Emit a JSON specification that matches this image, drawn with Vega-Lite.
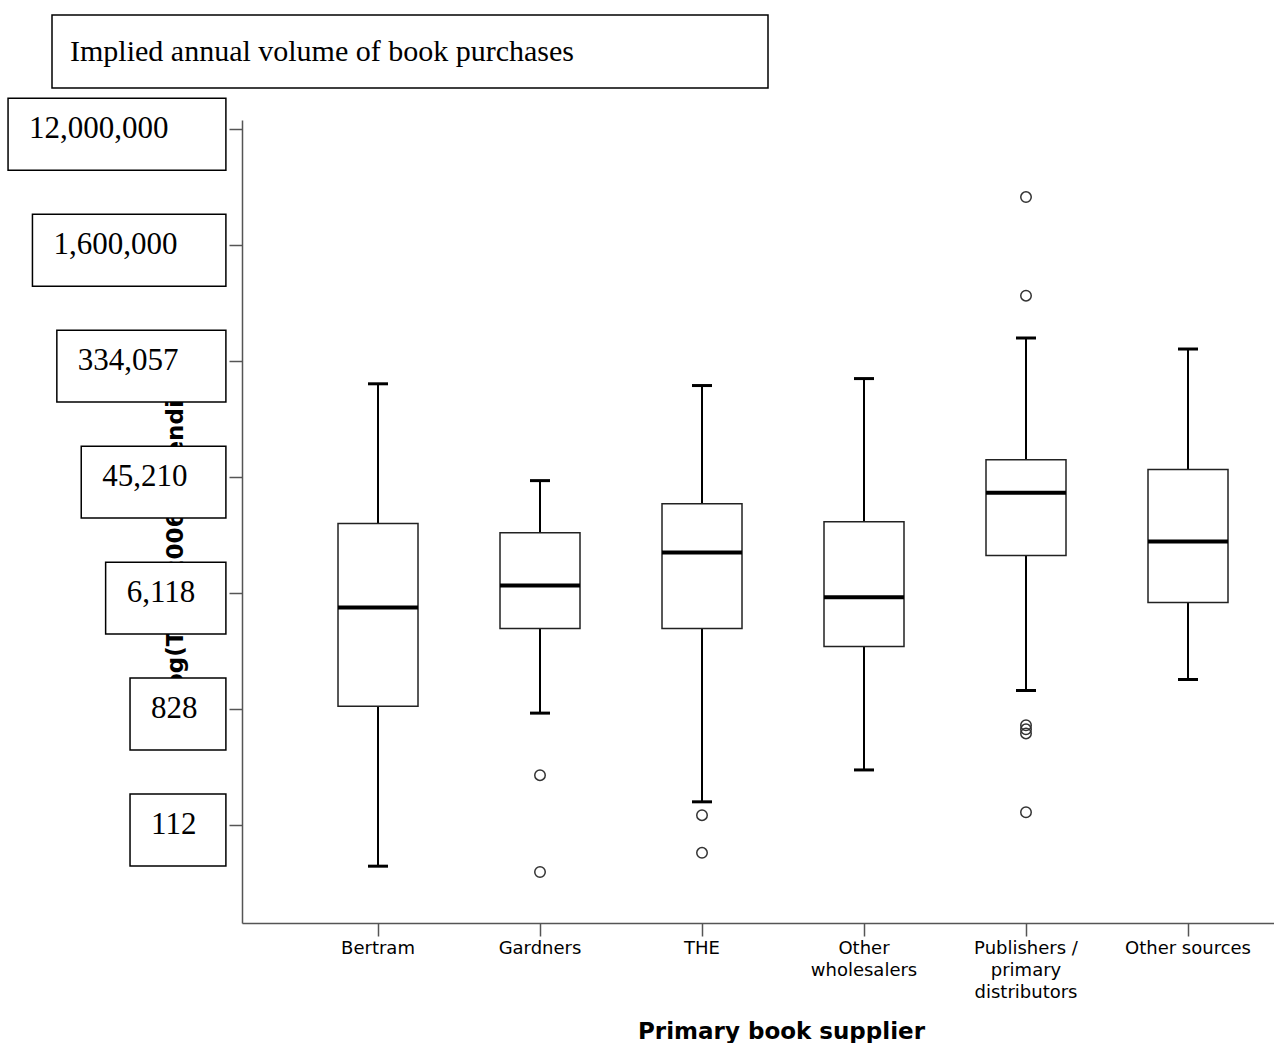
{
  "$schema": "https://vega.github.io/schema/vega-lite/v6.json",
  "padding": {"left": 0, "top": 14, "right": 0, "bottom": 0},
  "background": "white",
  "bounds": "full",
  "spacing": 8,
  "datasets": {
    "boxes": [
      {"supplier": "Bertram", "lower": 3.29, "q1": 6.05, "median": 7.75, "q3": 9.20, "upper": 11.61},
      {"supplier": "Gardners", "lower": 5.93, "q1": 7.39, "median": 8.13, "q3": 9.04, "upper": 9.94},
      {"supplier": "THE", "lower": 4.40, "q1": 7.39, "median": 8.70, "q3": 9.54, "upper": 11.58},
      {"supplier": "Other wholesalers", "lower": 4.95, "q1": 7.08, "median": 7.93, "q3": 9.23, "upper": 11.70},
      {"supplier": "Publishers / primary distributors", "lower": 6.32, "q1": 8.65, "median": 9.73, "q3": 10.30, "upper": 12.40},
      {"supplier": "Other sources", "lower": 6.51, "q1": 7.84, "median": 8.89, "q3": 10.13, "upper": 12.21}
    ],
    "outliers": [
      {"supplier": "Gardners", "value": 4.86},
      {"supplier": "Gardners", "value": 3.19},
      {"supplier": "THE", "value": 4.17},
      {"supplier": "THE", "value": 3.52},
      {"supplier": "Publishers / primary distributors", "value": 14.83},
      {"supplier": "Publishers / primary distributors", "value": 13.13},
      {"supplier": "Publishers / primary distributors", "value": 5.72},
      {"supplier": "Publishers / primary distributors", "value": 5.65},
      {"supplier": "Publishers / primary distributors", "value": 5.58},
      {"supplier": "Publishers / primary distributors", "value": 4.22}
    ],
    "labels": [
      {"label": "12,000,000", "v": 16, "indent": 0},
      {"label": "1,600,000", "v": 14, "indent": 1},
      {"label": "334,057", "v": 12, "indent": 2},
      {"label": "45,210", "v": 10, "indent": 3},
      {"label": "6,118", "v": 8, "indent": 4},
      {"label": "828", "v": 6, "indent": 5},
      {"label": "112", "v": 4, "indent": 5}
    ]
  },
  "vconcat": [
    {
      "bounds": "flush",
      "spacing": 0,
      "hconcat": [
        {
          "width": 52,
          "height": 73,
          "view": {"stroke": null},
          "data": {"values": [{"t": ""}]},
          "mark": {"type": "text"},
          "encoding": {"text": {"field": "t"}}
        },
        {
          "width": 716,
          "height": 73,
          "view": {"stroke": "black", "strokeWidth": 1.5, "fill": "white"},
          "data": {"values": [{"t": "Implied annual volume of book purchases"}]},
          "mark": {"type": "text", "align": "left", "baseline": "middle", "font": "Liberation Serif", "fontSize": 30, "color": "black", "dx": 18},
          "encoding": {
            "text": {"field": "t"},
            "x": {"datum": 0, "type": "quantitative", "scale": {"domain": [0, 1]}, "axis": null}
          }
        }
      ]
    },
    {
      "bounds": "flush",
      "spacing": 0,
      "hconcat": [
        {
          "width": 242,
          "height": 803,
          "view": {"stroke": null},
          "data": {"name": "labels"},
          "transform": [
            {"calculate": "datum.v + 0.534", "as": "boxTop"},
            {"calculate": "datum.v - 0.706", "as": "boxBottom"}
          ],
          "layer": [
            {
              "mark": {"type": "rect", "fill": "white", "stroke": "black", "strokeWidth": 1.5},
              "encoding": {
                "x": {"field": "indent", "type": "quantitative", "scale": {"domain": [-0.33, 9.59], "nice": false, "zero": false}, "axis": null},
                "x2": {"datum": 8.93},
                "y": {
                  "field": "boxTop", "type": "quantitative",
                  "scale": {"domain": [2.31, 16.16], "nice": false, "zero": false},
                  "axis": {
                    "orient": "right", "domain": false, "ticks": false, "labels": false, "grid": false,
                    "title": "Log(Total 2006 expenditure)", "titleAngle": -90, "titleX": -60, "titleY": 399,
                    "titleAlign": "center", "titleBaseline": "alphabetic", "titleFont": "DejaVu Sans",
                    "titleFontWeight": "bold", "titleFontSize": 23, "titleColor": "black", "zindex": 0
                  }
                },
                "y2": {"field": "boxBottom"}
              }
            },
            {
              "mark": {"type": "text", "align": "left", "baseline": "middle", "font": "Liberation Serif", "fontSize": 31, "color": "black", "dx": 21},
              "encoding": {
                "x": {"field": "indent", "type": "quantitative"},
                "y": {"field": "v", "type": "quantitative"},
                "text": {"field": "label"}
              }
            }
          ]
        },
        {
          "width": 1032,
          "height": 803,
          "view": {"stroke": null},
          "encoding": {
            "x": {
              "field": "supplier", "type": "nominal",
              "scale": {
                "domain": ["Bertram", "Gardners", "THE", "Other wholesalers", "Publishers / primary distributors", "Other sources"],
                "paddingInner": 0, "paddingOuter": 0.1852, "align": 0.9167
              },
              "axis": {
                "orient": "bottom", "domainColor": "#555555", "domainWidth": 1.5, "tickColor": "#555555", "tickWidth": 1.5, "tickSize": 13,
                "labelAngle": 0, "labelFont": "DejaVu Sans", "labelFontSize": 18, "labelColor": "black", "labelPadding": 3,
                "labelLineHeight": 22, "labelBaseline": "top",
                "labelExpr": "datum.value == 'Other wholesalers' ? ['Other', 'wholesalers'] : datum.value == 'Publishers / primary distributors' ? ['Publishers /', 'primary', 'distributors'] : datum.value",
                "title": "Primary book supplier", "titleFont": "DejaVu Sans", "titleFontWeight": "bold", "titleFontSize": 23,
                "titleColor": "black", "titleX": 539, "titleY": 115, "titleAlign": "center", "titleBaseline": "alphabetic", "grid": false
              }
            }
          },
          "layer": [
            {
              "data": {"name": "boxes"},
              "mark": {"type": "rule", "color": "black", "strokeWidth": 2},
              "encoding": {
                "y": {
                  "field": "lower", "type": "quantitative",
                  "scale": {"domain": [2.31, 16.16], "nice": false, "zero": false},
                  "axis": {
                    "orient": "left", "values": [4, 6, 8, 10, 12, 14, 16], "labels": false, "grid": false, "title": null,
                    "domainColor": "#555555", "domainWidth": 1.5, "tickColor": "#555555", "tickWidth": 1.5, "tickSize": 13
                  }
                },
                "y2": {"field": "upper"}
              }
            },
            {
              "data": {"name": "boxes"},
              "mark": {"type": "tick", "color": "black", "size": 20, "thickness": 3, "opacity": 1},
              "encoding": {"y": {"field": "upper", "type": "quantitative"}}
            },
            {
              "data": {"name": "boxes"},
              "mark": {"type": "tick", "color": "black", "size": 20, "thickness": 3, "opacity": 1},
              "encoding": {"y": {"field": "lower", "type": "quantitative"}}
            },
            {
              "data": {"name": "boxes"},
              "mark": {"type": "bar", "size": 80, "fill": "white", "stroke": "#222222", "strokeWidth": 1.5},
              "encoding": {
                "y": {"field": "q1", "type": "quantitative"},
                "y2": {"field": "q3"}
              }
            },
            {
              "data": {"name": "boxes"},
              "mark": {"type": "tick", "color": "black", "size": 80, "thickness": 4, "opacity": 1},
              "encoding": {"y": {"field": "median", "type": "quantitative"}}
            },
            {
              "data": {"name": "outliers"},
              "mark": {"type": "point", "shape": "circle", "filled": false, "size": 110, "stroke": "#333333", "strokeWidth": 1.5, "opacity": 1},
              "encoding": {"y": {"field": "value", "type": "quantitative"}}
            }
          ]
        }
      ]
    }
  ]
}
